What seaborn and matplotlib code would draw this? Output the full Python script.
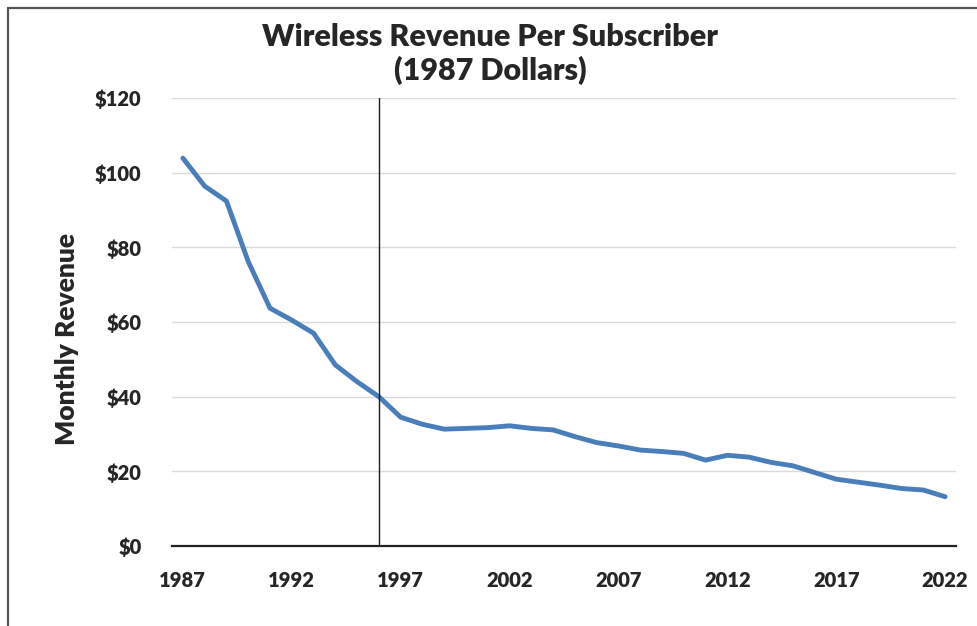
import matplotlib
matplotlib.use("Agg")
import matplotlib.pyplot as plt
from matplotlib.lines import Line2D
import seaborn as sns
import pandas as pd

years = list(range(1987, 2023))
revenue = [103.9, 96.4, 92.4, 76.2, 63.7, 60.5, 57.0, 48.5, 44.0, 40.0,
           34.5, 32.6, 31.3, 31.5, 31.7, 32.2, 31.5, 31.1, 29.3, 27.7,
           26.8, 25.7, 25.3, 24.8, 23.0, 24.3, 23.8, 22.4, 21.5, 19.7,
           17.9, 17.1, 16.3, 15.4, 15.0, 13.2]
x_ticks = [1987, 1992, 1997, 2002, 2007, 2012, 2017, 2022]
y_ticks = [0, 20, 40, 60, 80, 100, 120]
y_labels = ["$0", "$20", "$40", "$60", "$80", "$100", "$120"]
marker_year = 1996
title = "Wireless Revenue Per Subscriber\n(1987 Dollars)"
ylabel = "Monthly Revenue"

sns.set_theme(style="white")
plt.rcParams["font.family"] = ["Lato", "DejaVu Sans"]

df = pd.DataFrame({"Year": years, "Revenue": revenue})

fig = plt.figure(figsize=(9.78, 6.26), dpi=100)
ax = fig.add_axes([172/978, 1-546/626, (956-172)/978, (546-98)/626])

ax.set_ylim(0, 120)
ax.set_xlim(1986.5, 2022.5)
ax.set_yticks(y_ticks)
ax.set_yticklabels(y_labels)
ax.set_xticks(x_ticks)
ax.set_xticklabels([str(t) for t in x_ticks])
ax.grid(axis="y", color="#d9d9d9", linewidth=1.0, zorder=0)
ax.grid(axis="x", visible=False)

sns.lineplot(data=df, x="Year", y="Revenue", ax=ax, color="#4a7ebb",
             linewidth=3.5, zorder=3, solid_capstyle="round")
ax.axvline(marker_year, color="#1a1a1a", linewidth=1.0, ymax=1.0, zorder=4)

for s in ["top", "right", "left"]:
    ax.spines[s].set_visible(False)
ax.spines["bottom"].set_color("#222222")
ax.spines["bottom"].set_linewidth(1.6)

ax.tick_params(axis="both", length=0, labelsize=14.5)
ax.tick_params(axis="y", pad=22)
ax.tick_params(axis="x", pad=18)
for lab in ax.get_xticklabels() + ax.get_yticklabels():
    lab.set_fontweight("heavy")

ax.set_xlabel("")
ax.set_ylabel(ylabel, fontsize=19, fontweight="heavy")
ax.yaxis.label.set_fontweight("heavy")
ax.yaxis.set_label_coords(-0.134, 0.462)
ax.yaxis.label.set_va("center")

fig.text(490/978, 1-54/626, title, ha="center", va="center",
         fontsize=22, fontweight="heavy", linespacing=1.2)

# frame border (top and left visible in reference)
fig.add_artist(Line2D([8/978, 8/978], [0, 1-8/626], transform=fig.transFigure,
                      color="#555555", linewidth=1.6))
fig.add_artist(Line2D([8/978, 1], [1-8/626, 1-8/626], transform=fig.transFigure,
                      color="#555555", linewidth=1.6))

fig.savefig("out.png", dpi=100, facecolor="white")
